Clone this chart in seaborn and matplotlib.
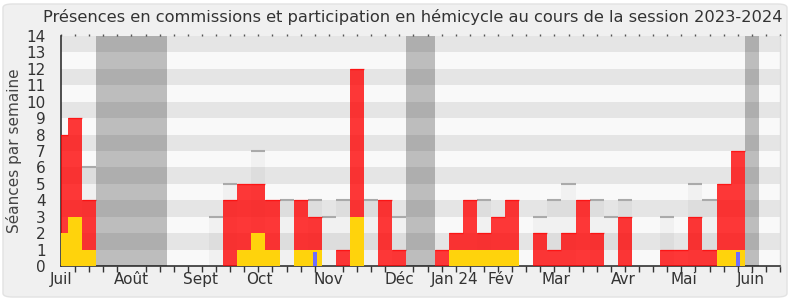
import numpy as np
import pandas as pd
import matplotlib
matplotlib.use("Agg")
import matplotlib.pyplot as plt
from matplotlib.patches import FancyBboxPatch
import seaborn as sns

# ---------------- data ----------------
weeks = list(range(52))
commission = [8, 9, 4, 0, 0, 0, 0, 0, 0, 0, 0, 0, 4, 5, 5, 4, 0, 4, 3, 0,
              1, 12, 0, 4, 1, 0, 0, 1, 2, 4, 2, 3, 4, 0, 2, 1, 2, 4, 2, 0,
              3, 0, 0, 1, 1, 3, 1, 5, 7, 0, 0, 0]
hemicycle = [2, 3, 1, 0, 0, 0, 0, 0, 0, 0, 0, 0, 0, 1, 2, 1, 0, 1, 1, 0,
             0, 3, 0, 0, 0, 0, 0, 0, 1, 1, 1, 1, 1, 0, 0, 0, 0, 0, 0, 0,
             0, 0, 0, 0, 0, 0, 0, 1, 1, 0, 0, 0]
questions = [0] * 52
questions[18] = 0.85
questions[48] = 0.85
moyenne = [0, 0, 6, 0, 0, 0, 0, 0, 0, 0, 0, 3, 5, 0, 7, 0, 4, 0, 4, 3,
           4, 0, 4, 0, 3, 0, 0, 0, 0, 0, 4, 0, 0, 0, 3, 4, 5, 0, 4, 3,
           4, 0, 0, 3, 0, 5, 4, 0, 0, 0, 0, 0]
vacances = [3, 4, 5, 6, 7, 25, 26, 49]
month_labels = ["Juil", "Août", "Sept", "Oct", "Nov", "Déc", "Jan 24", "Fév",
                "Mar", "Avr", "Mai", "Juin"]
month_pos = [0, 5, 9.9, 14.1, 19, 24, 27.9, 31.2, 35.1, 39.9, 44.2, 48.9]
y_ticks = list(range(15))

df = pd.DataFrame({"semaine": weeks, "commission": commission,
                   "hemicycle": hemicycle, "questions": questions,
                   "moyenne": moyenne})

# ---------------- figure ----------------
sns.set_style("white")
plt.rcParams["font.family"] = ["DejaVu Sans"]
fig = plt.figure(figsize=(7.9, 3.0), dpi=100)
fig.patch.set_facecolor("white")
frame = FancyBboxPatch((3 / 790, 3 / 300), 784 / 790, 293 / 300,
                       boxstyle="round,pad=0,rounding_size=0.012",
                       transform=fig.transFigure, facecolor="#F0F0F0",
                       edgecolor="#E2E2E2", linewidth=1.0, zorder=-10)
fig.patches.append(frame)

ax = fig.add_axes([61 / 790, 1 - 266 / 300, 719 / 790, 230 / 300])
ax.set_facecolor("#F9F9F9")

# background stripes
for k in range(0, 14, 2):
    ax.axhspan(k + 1, k + 2, color="#E5E5E5", lw=0, zorder=0)

# average (light) bars
sns.barplot(data=df, x="semaine", y="moyenne", native_scale=True, width=1,
            color="black", alpha=0.03, linewidth=0, ax=ax, zorder=1,
            errorbar=None, saturation=1)
ax.hlines([m for m in moyenne if m > 0],
          [w - 0.5 for w, m in zip(weeks, moyenne) if m > 0],
          [w + 0.5 for w, m in zip(weeks, moyenne) if m > 0],
          color="#AAAAAA", lw=1.5, zorder=2)

# commission (red)
sns.barplot(data=df, x="semaine", y="commission", native_scale=True, width=1,
            color="#FF0000", alpha=0.78, linewidth=0, ax=ax, zorder=3,
            errorbar=None, saturation=1)
ax.hlines([c for c in commission if c > 0],
          [w - 0.5 for w, c in zip(weeks, commission) if c > 0],
          [w + 0.5 for w, c in zip(weeks, commission) if c > 0],
          color="#FF0000", lw=1.0, alpha=0.6, zorder=3.5)

# hemicycle (yellow)
sns.barplot(data=df, x="semaine", y="hemicycle", native_scale=True, width=1,
            color="#FFD30C", linewidth=0, ax=ax, zorder=4, errorbar=None,
            saturation=1)

# questions (blue)
sns.barplot(data=df, x="semaine", y="questions", native_scale=True, width=0.3,
            color="#6E6EFF", linewidth=0, ax=ax, zorder=5, errorbar=None,
            saturation=1)

# vacation weeks
for w in vacances:
    ax.axvspan(w - 0.5, w + 0.5, color="black", alpha=0.24, lw=0, zorder=6)

ax.set_xlim(0, 51)
ax.set_ylim(0, 14)
ax.set_xlabel("")
ax.set_ylabel("Séances par semaine", fontsize=11, color="#444444", labelpad=3)

ax.set_yticks(y_ticks)
ax.set_yticklabels([str(t) for t in y_ticks], fontsize=11, color="#333333")
ax.set_xticks(month_pos)
ax.set_xticklabels(month_labels, fontsize=11, color="#333333")
ax.tick_params(axis="x", which="major", length=0, pad=4)
ax.set_xticks(weeks, minor=True)
ax.tick_params(axis="x", which="minor", length=4, width=1, color="#333333",
               direction="out", bottom=True, top=False)
ax.tick_params(axis="y", which="major", length=4, width=1, color="#333333",
               direction="out", pad=7)
ax2 = ax.secondary_xaxis("top")
ax2.set_xticks(weeks)
ax2.set_xticklabels([])
ax2.tick_params(length=1.5, width=1, color="#555555", direction="out")
ax2.spines["top"].set_visible(False)

for s in ["left", "bottom"]:
    ax.spines[s].set_color("#333333")
    ax.spines[s].set_linewidth(1.2)
ax.spines["top"].set_visible(False)
ax.spines["right"].set_color("#DDDDDD")
ax.spines["right"].set_linewidth(1.0)

fig.text(413 / 790, 1 - 17 / 300,
         "Présences en commissions et participation en hémicycle au cours de la session 2023-2024",
         ha="center", va="center", fontsize=11.7, color="#333333")

fig.savefig("out.png", dpi=100, facecolor=fig.get_facecolor())
